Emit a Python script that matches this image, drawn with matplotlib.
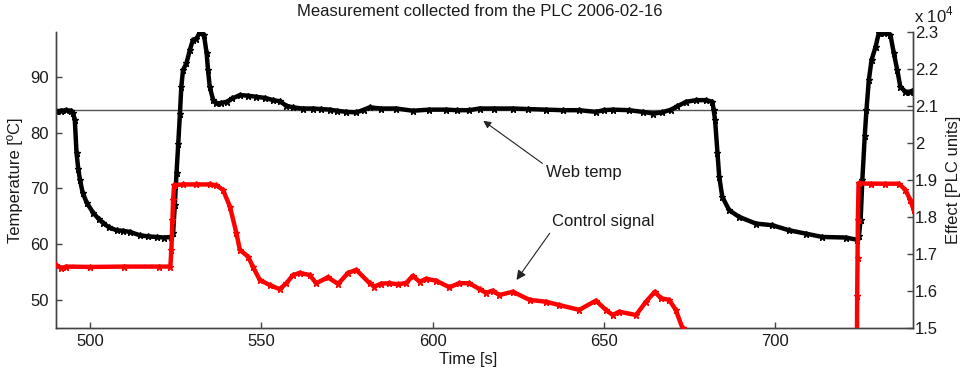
import matplotlib
matplotlib.use("Agg")
import matplotlib.pyplot as plt
from matplotlib.ticker import FuncFormatter

plt.rcParams['font.family'] = ['Liberation Sans', 'DejaVu Sans']
plt.rcParams['mathtext.fontset'] = 'custom'
plt.rcParams['mathtext.rm'] = 'Liberation Sans'

# ---- data ----
web_t = [490.0, 491.5, 493.0, 494.5, 495.0, 495.5, 496.0, 496.5, 497.0, 497.8, 499.0, 500.9,
         502.5, 503.8, 505.5, 507.7, 509.5, 511.6, 514.5, 517.0, 519.4, 521.5, 523.7, 524.2,
         524.7, 525.2, 525.7, 526.2, 526.6, 527.1, 528.1, 529.1, 530.0, 531.0, 532.0, 533.2,
         534.0, 534.4, 534.9, 535.9, 536.8, 538.3, 539.8, 541.5, 543.7, 546.0, 548.5, 551.0,
         553.4, 555.3, 557.3, 559.2, 562.0, 565.0, 567.5, 569.9, 572.0, 574.8, 577.7, 580.0,
         581.6, 585.0, 589.4, 594.2, 599.0, 604.0, 607.0, 610.7, 613.7, 618.0, 623.4, 628.0,
         633.1, 638.0, 642.8, 647.7, 650.0, 652.6, 657.4, 661.3, 664.5, 667.0, 669.6, 671.5,
         674.0, 677.0, 679.8, 681.7, 682.1, 682.5, 683.2, 683.7, 684.6, 686.6, 689.5, 694.4,
         699.2, 704.1, 709.0, 713.8, 720.6, 724.0, 724.5, 725.0, 725.5, 726.2, 726.7, 727.4,
         728.2, 729.4, 730.3, 731.8, 733.7, 734.7, 735.7, 736.6, 738.1, 739.5, 740.5]
web_temp = [83.8, 83.9, 84.0, 83.9, 83.5, 82.2, 76.3, 73.5, 71.5, 69.2, 67.4, 65.6,
            64.5, 63.8, 63.0, 62.5, 62.4, 62.2, 61.6, 61.4, 61.3, 61.2, 61.3, 62.0,
            67.0, 72.7, 78.0, 83.4, 88.2, 91.2, 92.4, 94.8, 96.6, 96.8, 97.9, 97.5,
            94.2, 91.2, 88.2, 85.8, 85.2, 85.3, 85.5, 86.1, 86.7, 86.6, 86.4, 86.2,
            85.8, 85.6, 84.8, 84.5, 84.3, 84.3, 84.2, 84.1, 83.9, 83.7, 83.6, 84.1,
            84.5, 84.3, 84.3, 83.9, 84.1, 84.1, 84.0, 84.0, 84.3, 84.3, 84.3, 84.2,
            84.1, 84.0, 84.0, 83.7, 84.0, 84.1, 84.0, 83.7, 83.4, 83.6, 84.1, 84.7,
            85.5, 85.8, 85.8, 85.5, 84.0, 82.2, 76.3, 72.1, 68.5, 66.1, 64.9, 63.7,
            63.4, 62.5, 61.9, 61.3, 61.2, 60.8, 61.5, 64.3, 71.5, 79.3, 84.0, 89.4,
            93.0, 95.4, 97.8, 97.9, 97.5, 94.2, 91.2, 88.2, 87.3, 87.3, 87.6]

ctrl_t = [490.0, 491.5, 493.0, 500.0, 510.0, 520.0, 523.4, 523.7, 524.0, 524.2, 524.5,
          527.0, 531.0, 535.0, 536.8, 538.8, 540.8, 542.7, 543.7, 546.1, 547.5, 549.5,
          552.4, 555.3, 557.3, 559.2, 561.2, 564.1, 566.0, 569.4, 572.4, 575.3, 577.7,
          581.6, 583.0, 585.0, 587.4, 590.0, 592.3, 594.2, 596.2, 598.1, 601.0, 604.9,
          607.8, 610.7, 613.7, 615.6, 617.5, 619.5, 623.4, 628.3, 633.1, 637.0, 642.8,
          647.7, 650.6, 652.6, 654.5, 659.4, 662.3, 664.9, 666.7, 669.1, 671.0, 673.0,
          674.0, 690.0, 723.9, 724.0, 724.1, 724.2, 724.4, 728.0, 732.0, 736.2, 738.1,
          739.5, 740.5]
ctrl_sig = [16700, 16620, 16660, 16650, 16660, 16660, 16660, 17110, 17920, 18460, 18860,
            18880, 18880, 18880, 18860, 18730, 18280, 17560, 17110, 16930, 16660, 16300,
            16160, 16050, 16210, 16430, 16490, 16430, 16210, 16370, 16190, 16490, 16570,
            16210, 16120, 16200, 16210, 16180, 16220, 16410, 16250, 16330, 16280, 16100,
            16210, 16210, 16050, 15950, 16010, 15890, 15980, 15760, 15710, 15620, 15490,
            15740, 15490, 15350, 15440, 15350, 15710, 15980, 15800, 15760, 15490, 14990,
            14700, 14200, 14200, 15860, 16880, 17920, 18910, 18900, 18900, 18900, 18730,
            18460, 18190]

ref_level = 84.0
x_ticks = [500, 550, 600, 650, 700]
left_ticks = [50, 60, 70, 80, 90]
right_ticks = [15000, 16000, 17000, 18000, 19000, 20000, 21000, 22000, 23000]

# ---- figure ----
W, H = 961, 371
fig = plt.figure(figsize=(W / 100, H / 100), dpi=100)
ax = fig.add_axes([56 / W, 43 / H, 857 / W, 296 / H])
ax2 = ax.twinx()

fs = 12
tc = '#1a1a1a'

ax.axhline(ref_level, color='#555555', lw=1.0, zorder=1)
ax.plot(web_t, web_temp, color='black', lw=3.2, marker='*', ms=4.5,
        solid_joinstyle='round', zorder=3)
ax2.plot(ctrl_t, ctrl_sig, color='#ff0000', lw=3.2, marker='*', ms=4.5,
         solid_joinstyle='round', zorder=3)

ax.set_xlim(490, 740.3)
ax.set_ylim(45, 98)
ax2.set_ylim(15000, 23000)

ax.set_xticks(x_ticks)
ax.set_yticks(left_ticks)
ax2.set_yticks(right_ticks)
ax2.yaxis.set_major_formatter(FuncFormatter(lambda v, p: f"{v / 1e4:g}"))

for a in (ax, ax2):
    a.spines['top'].set_visible(False)
    for s in a.spines.values():
        s.set_color('#444444')
        s.set_linewidth(1.0)
    a.tick_params(direction='in', length=4, width=1, colors='#444444',
                  labelcolor=tc, labelsize=fs)
    a.patch.set_visible(False)
ax.tick_params(axis='y', pad=5)
ax.tick_params(axis='x', pad=4)
ax2.tick_params(axis='y', pad=1.5)

ax.set_xlabel('Time [s]', fontsize=fs, color=tc)
ax.xaxis.set_label_coords(0.481, -0.105)
ax.set_ylabel('Temperature [ºC]', fontsize=fs, color=tc)
ax.yaxis.set_label_coords(-0.0473, 0.5)
ax2.set_ylabel('Effect [PLC units]', fontsize=fs, color=tc)
ax2.yaxis.set_label_coords(1.0467, 0.5)
ax.xaxis.label.set_va('center')
ax.yaxis.label.set_va('center')
ax2.yaxis.label.set_va('center')

fig.text(480 / W, 1 - 11 / H, 'Measurement collected from the PLC 2006-02-16',
         ha='center', va='center', fontsize=fs, color=tc)
fig.text(914 / W, 1 - 15 / H, r'x $10^{4}$', ha='left', va='center',
         fontsize=fs, color=tc)

ax.annotate('Web temp', xy=(614.8, 82.1), xytext=(633.2, 72.9),
            fontsize=fs, color=tc, ha='left', va='center',
            arrowprops=dict(arrowstyle='-|>', color='#222222', lw=0.8,
                            mutation_scale=11, relpos=(0, 0.9),
                            shrinkA=1, shrinkB=0))
ax.annotate('Control signal', xy=(624.5, 53.6), xytext=(635.0, 64.0),
            fontsize=fs, color=tc, ha='left', va='center',
            arrowprops=dict(arrowstyle='-|>', color='#222222', lw=0.8,
                            mutation_scale=14, relpos=(0, 0.0),
                            shrinkA=1, shrinkB=0))

fig.savefig('out.png', dpi=100)
